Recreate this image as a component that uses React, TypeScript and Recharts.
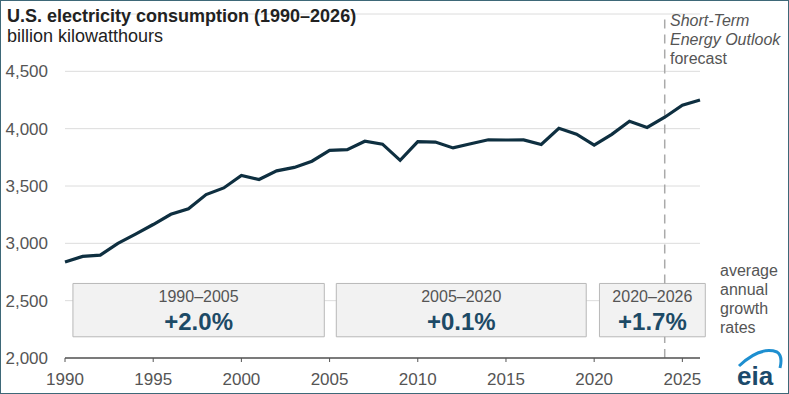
import { LineChart, Line, XAxis, YAxis, CartesianGrid, ReferenceLine, ReferenceArea } from 'recharts'

const years = [
  1990, 1991, 1992, 1993, 1994, 1995, 1996, 1997, 1998, 1999,
  2000, 2001, 2002, 2003, 2004, 2005, 2006, 2007, 2008, 2009,
  2010, 2011, 2012, 2013, 2014, 2015, 2016, 2017, 2018, 2019,
  2020, 2021, 2022, 2023, 2024, 2025, 2026,
]
const consumption = [
  2837, 2886, 2897, 3000, 3080, 3164, 3253, 3301, 3425, 3483,
  3592, 3557, 3632, 3662, 3716, 3811, 3817, 3890, 3865, 3724,
  3887, 3883, 3832, 3868, 3903, 3901, 3902, 3862, 4003, 3952,
  3856, 3950, 4065, 4011, 4100, 4205, 4250,
]
const xTicks = [1990, 1995, 2000, 2005, 2010, 2015, 2020, 2025]
const yTicks = [2000, 2500, 3000, 3500, 4000, 4500]

// growth-rate boxes: period label, rate, span on the year axis
const periods = ['1990–2005', '2005–2020', '2020–2026']
const rates = ['+2.0%', '+0.1%', '+1.7%']
const boxStart = [1990.45, 2005.38, 2020.3]
const boxEnd = [2004.7, 2019.55, 2026.3]
const boxLow = 2185
const boxHigh = 2650
const forecastYear = 2024

const data = years.map((year, i) => ({ year, value: consumption[i] }))

const FONT = '"Liberation Sans", Arial, sans-serif'
const GRAY = '#555'

function BoxLabel({ viewBox, period, rate }: any) {
  const cx = viewBox.x + viewBox.width / 2
  return (
    <g fontFamily={FONT}>
      <text x={cx} y={viewBox.y + 19} textAnchor="middle" fontSize={16} fill={GRAY}>
        {period}
      </text>
      <text x={cx} y={viewBox.y + 47} textAnchor="middle" fontSize={24} fontWeight="bold" fill="#1d4a66">
        {rate}
      </text>
    </g>
  )
}

export default function App() {
  return (
    <div style={{ position: 'absolute', left: 0, top: 0, width: 789, height: 394, background: '#fff' }}>
      <LineChart
        width={789}
        height={394}
        data={data}
        margin={{ top: 14, right: 89, bottom: 0, left: 8 }}
      >
        <CartesianGrid vertical={false} stroke="#dcdcdc" />
        {periods.map((p, i) => (
          <ReferenceArea
            key={p}
            x1={boxStart[i]}
            x2={boxEnd[i]}
            y1={boxLow}
            y2={boxHigh}
            fill="#f2f2f2"
            fillOpacity={1}
            stroke="#b8b8b8"
            strokeWidth={1}
            ifOverflow="visible"
            label={<BoxLabel period={p} rate={rates[i]} />}
          />
        ))}
        {/* forecast divider, broken where it passes behind the last box */}
        <ReferenceLine
          segment={[{ x: forecastYear, y: boxHigh }, { x: forecastYear, y: 5000 }]}
          stroke="#aaa"
          strokeWidth={1.5}
          strokeDasharray="9 6"
        />
        <ReferenceLine
          segment={[{ x: forecastYear, y: 2000 }, { x: forecastYear, y: boxLow }]}
          stroke="#aaa"
          strokeWidth={1.5}
          strokeDasharray="9 6"
        />
        <XAxis
          dataKey="year"
          type="number"
          domain={[1990, 2026]}
          ticks={xTicks}
          height={36}
          tickSize={4}
          tickMargin={11}
          stroke={GRAY}
          axisLine={{ stroke: GRAY, strokeWidth: 1.5 }}
          tick={{ fill: GRAY, fontSize: 17, fontFamily: FONT }}
        />
        <YAxis
          type="number"
          domain={[2000, 5000]}
          ticks={yTicks}
          width={57}
          axisLine={false}
          tickLine={false}
          tickSize={0}
          tickMargin={17}
          tickFormatter={(v: number) => v.toLocaleString('en-US')}
          tick={{ fill: GRAY, fontSize: 17, fontFamily: FONT }}
        />
        <Line
          type="linear"
          dataKey="value"
          stroke="#0e2f40"
          strokeWidth={3.2}
          dot={false}
          isAnimationActive={false}
        />
      </LineChart>
      <svg
        width={789}
        height={394}
        style={{ position: 'absolute', left: 0, top: 0, pointerEvents: 'none' }}
        fontFamily={FONT}
      >
        <text x={7} y={22} fontSize={18} fontWeight="bold" fill="#222">
          U.S. electricity consumption (1990–2026)
        </text>
        <text x={7} y={42} fontSize={18} fill="#222">
          billion kilowatthours
        </text>
        <text x={670} y={26} fontSize={16} fontStyle="italic" fill={GRAY}>Short-Term</text>
        <text x={670} y={45} fontSize={16} fontStyle="italic" fill={GRAY}>Energy Outlook</text>
        <text x={670} y={64} fontSize={16} fill={GRAY}>forecast</text>
        <text x={720} y={276} fontSize={16} fill={GRAY}>average</text>
        <text x={720} y={295} fontSize={16} fill={GRAY}>annual</text>
        <text x={720} y={314} fontSize={16} fill={GRAY}>growth</text>
        <text x={720} y={333} fontSize={16} fill={GRAY}>rates</text>
        <path d="M739 366 Q760 346 777 352 Q783 356 780 368" fill="none" stroke="#1e8fd0" strokeWidth={3} />
        <text x={737} y={385} fontSize={26} fontWeight="bold" fill="#1c4a6b">eia</text>
        <rect x={0.5} y={0.5} width={788} height={393} fill="none" stroke="#3e6878" strokeWidth={1} />
      </svg>
    </div>
  )
}
